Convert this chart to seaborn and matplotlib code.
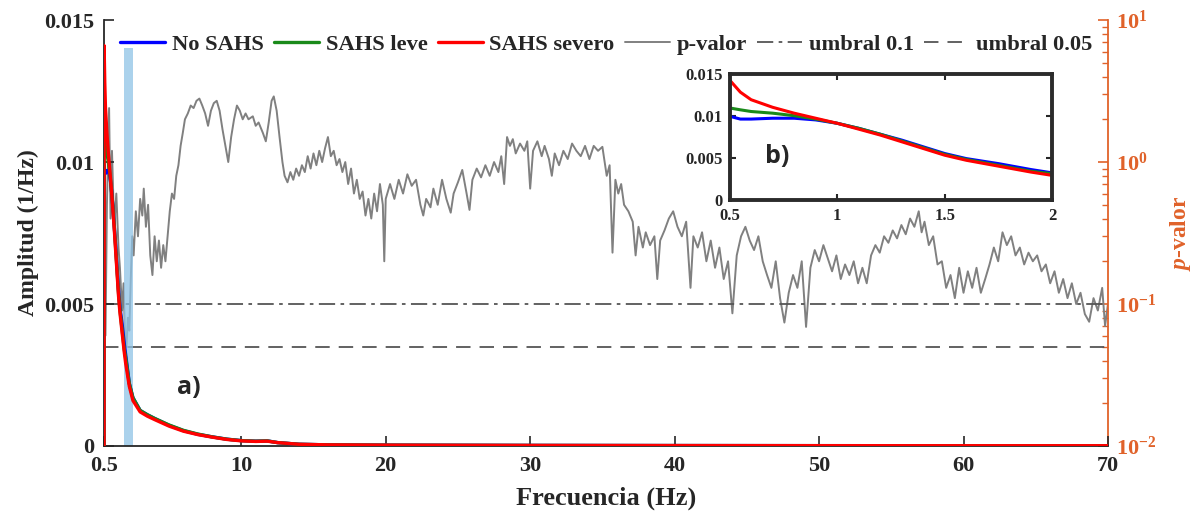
import numpy as np
import matplotlib
matplotlib.use("Agg")
import matplotlib.pyplot as plt
import seaborn as sns
from matplotlib.ticker import FixedLocator, FuncFormatter, LogLocator, NullFormatter

# amplitude spectra (1/Hz) per group
freq_amp = [0.5, 0.505, 0.55, 0.6, 0.7, 0.8, 0.9, 1.0, 1.1, 1.2, 1.3, 1.4, 1.5, 1.6, 1.75,
            1.9, 2.0, 2.25, 2.5, 3.0, 3.5, 4.0, 5.0, 6.0, 7.0, 8.0, 9.0, 10.0, 11.0, 11.8,
            12.5, 14.0, 16.0, 20.0, 30.0, 40.0, 50.0, 60.0, 70.0]
amp_no = [0.0, 0.0099, 0.0096, 0.0096, 0.0097, 0.0097, 0.0095, 0.0091, 0.0085, 0.0078, 0.0071,
          0.0063, 0.0055, 0.0049, 0.0043, 0.0036, 0.0032, 0.0022, 0.0017, 0.00125, 0.0011,
          0.00097, 0.00073, 0.00054, 0.00041, 0.00032, 0.00024, 0.00019, 0.00017, 0.00018,
          0.00012, 0.00006, 0.00004, 0.00003, 0.00002, 0.000015, 0.000012, 0.00001, 0.00001]
amp_leve = [0.0, 0.0109, 0.0107, 0.0105, 0.0103, 0.0100, 0.0096, 0.0091, 0.0085, 0.0078, 0.0070,
            0.0062, 0.0054, 0.0048, 0.0041, 0.0034, 0.0031, 0.0022, 0.0017, 0.00125, 0.0011,
            0.00097, 0.00074, 0.00055, 0.00042, 0.00032, 0.00024, 0.00019, 0.00017, 0.00018,
            0.00012, 0.00006, 0.00004, 0.00003, 0.00002, 0.000015, 0.000012, 0.00001, 0.00001]
amp_severo = [0.0, 0.0141, 0.0128, 0.0119, 0.0110, 0.0103, 0.0097, 0.0091, 0.0084, 0.0077, 0.0069,
              0.0061, 0.0053, 0.0047, 0.0040, 0.0033, 0.0029, 0.0021, 0.0016, 0.0012, 0.00105,
              0.00093, 0.00070, 0.00052, 0.00040, 0.00031, 0.00023, 0.00018, 0.00016, 0.00017,
              0.00012, 0.00006, 0.00004, 0.00003, 0.00002, 0.000015, 0.000012, 0.00001, 0.00001]

# p-value trace
pval_freq = [0.5, 0.6, 0.7, 0.85, 0.95, 1.05, 1.2, 1.35, 1.5, 1.6, 1.75, 1.85, 1.95, 2.05, 2.15,
             2.25, 2.35, 2.45, 2.55, 2.7, 2.85, 3.0, 3.15, 3.25, 3.4, 3.55, 3.7, 3.85, 4.0, 4.15,
             4.3, 4.45, 4.6, 4.75, 4.9, 5.05, 5.2, 5.35, 5.5, 5.65, 5.8, 5.95, 6.1, 6.3, 6.5,
             6.7, 6.9, 7.1, 7.3, 7.5, 7.7, 7.9, 8.1, 8.3, 8.5, 8.7, 8.9, 9.1, 9.3, 9.5, 9.7,
             9.9, 10.1, 10.3, 10.5, 10.8, 11.0, 11.2, 11.5, 11.7, 11.9, 12.1, 12.25, 12.45,
             12.65, 12.85, 13.0, 13.2, 13.4, 13.6, 13.8, 14.0, 14.2, 14.4, 14.6, 14.8, 15.0,
             15.2, 15.4, 15.6, 15.8, 16.0, 16.2, 16.4, 16.6, 16.8, 17.0, 17.2, 17.4, 17.6,
             17.8, 18.0, 18.2, 18.4, 18.6, 18.8, 19.0, 19.2, 19.4, 19.6, 19.8, 19.9, 20.0,
             20.3, 20.6, 20.9, 21.2, 21.5, 21.8, 22.1, 22.4, 22.6, 22.8, 23.1, 23.3, 23.6,
             23.9, 24.2, 24.5, 24.7, 25.0, 25.3, 25.6, 25.8, 26.0, 26.3, 26.6, 26.9, 27.2,
             27.5, 27.8, 28.0, 28.2, 28.4, 28.6, 28.8, 29.0, 29.3, 29.6, 29.8, 30.0, 30.2,
             30.5, 30.8, 31.0, 31.3, 31.5, 31.7, 32.0, 32.3, 32.6, 32.9, 33.2, 33.5, 33.8,
             34.1, 34.4, 34.7, 35.0, 35.3, 35.5, 35.7, 35.9, 36.1, 36.3, 36.5, 36.8, 37.1,
             37.3, 37.5, 37.8, 38.0, 38.3, 38.6, 38.8, 39.0, 39.3, 39.6, 39.9, 40.2, 40.5,
             40.8, 41.1, 41.3, 41.6, 41.9, 42.2, 42.5, 42.8, 43.1, 43.4, 43.7, 44.0, 44.3,
             44.6, 44.9, 45.2, 45.5, 45.8, 46.1, 46.4, 46.7, 47.0, 47.3, 47.6, 47.9, 48.2,
             48.5, 48.8, 49.1, 49.4, 49.7, 50.0, 50.3, 50.6, 50.9, 51.2, 51.5, 51.8, 52.1,
             52.4, 52.7, 53.0, 53.3, 53.6, 53.9, 54.2, 54.5, 54.8, 55.1, 55.4, 55.7, 56.0,
             56.3, 56.6, 56.9, 57.1, 57.3, 57.6, 57.9, 58.2, 58.5, 58.8, 59.1, 59.4, 59.7,
             60.0, 60.3, 60.6, 60.9, 61.2, 61.5, 61.8, 62.1, 62.4, 62.7, 63.0, 63.3, 63.6,
             63.9, 64.2, 64.5, 64.8, 65.1, 65.4, 65.7, 66.0, 66.3, 66.6, 66.9, 67.2, 67.5,
             67.8, 68.1, 68.4, 68.7, 69.0, 69.3, 69.6, 69.8, 70.0]
pval = [0.2, 0.06, 0.5, 2.4, 0.4, 1.2, 0.35, 0.6, 0.25, 0.18, 0.09, 0.14, 0.06, 0.05, 0.08,
        0.065, 0.15, 0.3, 0.22, 0.45, 0.3, 0.55, 0.42, 0.65, 0.35, 0.5, 0.22, 0.16, 0.3, 0.2,
        0.28, 0.18, 0.26, 0.2, 0.3, 0.45, 0.6, 0.55, 0.8, 0.95, 1.3, 1.6, 2.0, 2.2, 2.5,
        2.4, 2.7, 2.8, 2.5, 2.2, 1.8, 2.3, 2.6, 2.7, 2.3, 1.7, 1.3, 1.0, 1.5, 2.0, 2.5,
        2.3, 2.0, 2.2, 2.0, 2.1, 1.8, 1.9, 1.6, 1.4, 1.9, 2.7, 2.9, 2.3,
        1.5, 1.0, 0.8, 0.72, 0.85, 0.75, 0.9, 0.8, 0.95, 0.85, 1.1, 0.9, 1.15,
        0.95, 1.2, 1.0, 1.25, 1.5, 1.1, 1.2, 0.95, 1.05, 0.85, 1.0, 0.7, 0.9,
        0.6, 0.75, 0.55, 0.62, 0.42, 0.55, 0.4, 0.6, 0.45, 0.7, 0.5, 0.2, 0.55,
        0.7, 0.55, 0.75, 0.6, 0.82, 0.68, 0.75, 0.5, 0.42, 0.55, 0.48, 0.65, 0.5,
        0.75, 0.55, 0.44, 0.6, 0.72, 0.88, 0.6, 0.46, 0.75, 0.9, 0.78, 0.95, 0.8,
        1.0, 0.85, 1.1, 0.7, 1.5, 1.3, 1.45, 1.15, 1.35, 1.2, 1.4, 0.65, 1.2,
        1.4, 1.1, 1.3, 1.05, 0.8, 1.15, 0.95, 1.2, 1.05, 1.35, 1.2, 1.1, 1.3,
        1.05, 1.3, 1.2, 1.28, 0.8, 0.95, 0.23, 0.75, 0.6, 0.7, 0.5, 0.45, 0.38,
        0.22, 0.35, 0.25, 0.32, 0.26, 0.3, 0.15, 0.28, 0.33, 0.4, 0.45, 0.35, 0.3,
        0.38, 0.13, 0.3, 0.25, 0.32, 0.2, 0.28, 0.18, 0.25, 0.15, 0.2, 0.086, 0.22,
        0.3, 0.35, 0.28, 0.24, 0.3, 0.2, 0.16, 0.13, 0.2, 0.11, 0.074, 0.12, 0.16,
        0.13, 0.2, 0.069, 0.18, 0.24, 0.2, 0.26, 0.21, 0.17, 0.22, 0.15, 0.19, 0.16,
        0.2, 0.14, 0.18, 0.14, 0.22, 0.26, 0.23, 0.3, 0.27, 0.33, 0.29, 0.36, 0.31,
        0.4, 0.35, 0.45, 0.32, 0.38, 0.26, 0.3, 0.19, 0.2, 0.13, 0.16, 0.11, 0.18,
        0.12, 0.17, 0.13, 0.18, 0.12, 0.15, 0.19, 0.25, 0.2, 0.32, 0.26, 0.3, 0.22,
        0.25, 0.19, 0.23, 0.2, 0.22, 0.17, 0.19, 0.14, 0.17, 0.12, 0.15, 0.11, 0.14,
        0.1, 0.12, 0.085, 0.075, 0.11, 0.09, 0.13, 0.07, 0.1]

thresholds = [0.1, 0.05]
span_freq = [1.9, 2.5]
span_top = 0.014

groups = ["No SAHS", "SAHS leve", "SAHS severo"]
colors = ["#0000ff", "#1a8a1a", "#ff0000"]
orange = "#e0622a"

sns.set_style("ticks")
plt.rcParams["font.family"] = ["Liberation Serif", "DejaVu Serif"]
plt.rcParams["font.weight"] = "bold"
plt.rcParams["axes.labelweight"] = "bold"
plt.rcParams["mathtext.fontset"] = "custom"
plt.rcParams["mathtext.rm"] = "Liberation Serif:bold"
plt.rcParams["mathtext.it"] = "Liberation Serif:bold:italic"
plt.rcParams["mathtext.bf"] = "Liberation Serif:bold"

fig = plt.figure(figsize=(12, 5.15), dpi=100)
ax = fig.add_axes([0.0867, 0.134, 0.8366, 0.827])
ax_p = ax.twinx()
ax.set_zorder(ax_p.get_zorder() + 1)
ax.patch.set_visible(False)

# p-value on log axis
sns.lineplot(x=pval_freq, y=pval, ax=ax_p, color="#808080", linewidth=1.4, label="p-valor", legend=False)
ax_p.axhline(thresholds[0], color="#555555", ls=(0, (9, 3, 2, 3)), lw=1.3, label="umbral 0.1")
ax_p.axhline(thresholds[1], color="#555555", ls=(0, (8, 5)), lw=1.3, label="umbral 0.05")
ax_p.set_yscale("log")
ax_p.set_ylim(0.01, 10)
ax_p.yaxis.set_major_locator(LogLocator(base=10, numticks=10))
ax_p.yaxis.set_minor_locator(LogLocator(base=10, subs=np.arange(2, 10), numticks=10))
ax_p.yaxis.set_major_formatter(FuncFormatter(lambda v, _: r"$10^{%d}$" % round(np.log10(v))))
ax_p.yaxis.set_minor_formatter(NullFormatter())
ax_p.tick_params(axis="y", which="major", direction="in", length=7, width=1.2, colors=orange, labelsize=16, pad=6)
ax_p.tick_params(axis="y", which="minor", direction="in", length=4, width=1.0, colors=orange)
ax_p.set_ylabel("$p$-valor", color=orange, fontsize=17, labelpad=8)
for s in ["top", "left", "bottom"]:
    ax_p.spines[s].set_visible(False)
ax_p.spines["right"].set_color(orange)
ax_p.spines["right"].set_linewidth(1.3)

# span and amplitude curves
ax.fill_between(span_freq, 0, span_top, color="#8fc3e6", alpha=0.75, linewidth=0, zorder=1)
for name, amp, c in zip(groups, [amp_no, amp_leve, amp_severo], colors):
    sns.lineplot(x=freq_amp, y=amp, ax=ax, color=c, linewidth=2.4, label=name, legend=False, zorder=3)

ax.set_xlim(0.5, 70)
ax.set_ylim(0, 0.015)
ax.xaxis.set_major_locator(FixedLocator([0.5, 10, 20, 30, 40, 50, 60, 70]))
ax.set_xticklabels(["0.5", "10", "20", "30", "40", "50", "60", "70"])
ax.yaxis.set_major_locator(FixedLocator([0, 0.005, 0.01, 0.015]))
ax.set_yticklabels(["0", "0.005", "0.01", "0.015"])
ax.tick_params(direction="in", length=7, width=1.2, labelsize=16, pad=7)
ax.set_xlabel("Frecuencia (Hz)", fontsize=19, labelpad=8)
ax.set_ylabel("Amplitud (1/Hz)", fontsize=17, labelpad=4)
ax.spines["top"].set_visible(False)
ax.spines["right"].set_visible(False)
ax.spines["left"].set_linewidth(1.3)
ax.spines["bottom"].set_linewidth(1.3)
ax.text(6.4, 0.00205, "a)", fontsize=18, fontweight="bold", family="Open Sans", ha="center", va="center")

handles = ax.get_lines()[:3] + ax_p.get_lines()[:3]
labels = groups + ["p-valor", "umbral 0.1", "umbral 0.05"]
leg = ax.legend(handles, labels, ncol=6, loc="center", bbox_to_anchor=(0.5, 0.942), frameon=False,
                fontsize=16.2, handlelength=2.0, handletextpad=0.3, columnspacing=0.45, borderaxespad=0)

# inset zoom 0.5-2 Hz
axin = fig.add_axes([0.608, 0.612, 0.269, 0.245])
axin.set_zorder(ax.get_zorder() + 1)
for name, amp, c in zip(groups, [amp_no, amp_leve, amp_severo], colors):
    sns.lineplot(x=freq_amp[1:], y=amp[1:], ax=axin, color=c, linewidth=2.2, legend=False)
axin.set_xlim(0.5, 2)
axin.set_ylim(0, 0.015)
axin.xaxis.set_major_locator(FixedLocator([0.5, 1, 1.5, 2]))
axin.set_xticklabels(["0.5", "1", "1.5", "2"])
axin.yaxis.set_major_locator(FixedLocator([0, 0.005, 0.01, 0.015]))
axin.set_yticklabels(["0", "0.005", "0.01", "0.015"])
axin.tick_params(direction="in", length=4, width=1.5, labelsize=12, top=True, right=True)
axin.tick_params(axis="x", pad=6)
axin.tick_params(axis="y", pad=5)
axin.set_xlabel("")
axin.set_ylabel("")
for s in axin.spines.values():
    s.set_linewidth(2.8)
    s.set_color("#2b2b2b")
axin.text(0.72, 0.0051, "b)", fontsize=18, fontweight="bold", family="Open Sans", ha="center", va="center")

fig.savefig("out.png", dpi=100)
